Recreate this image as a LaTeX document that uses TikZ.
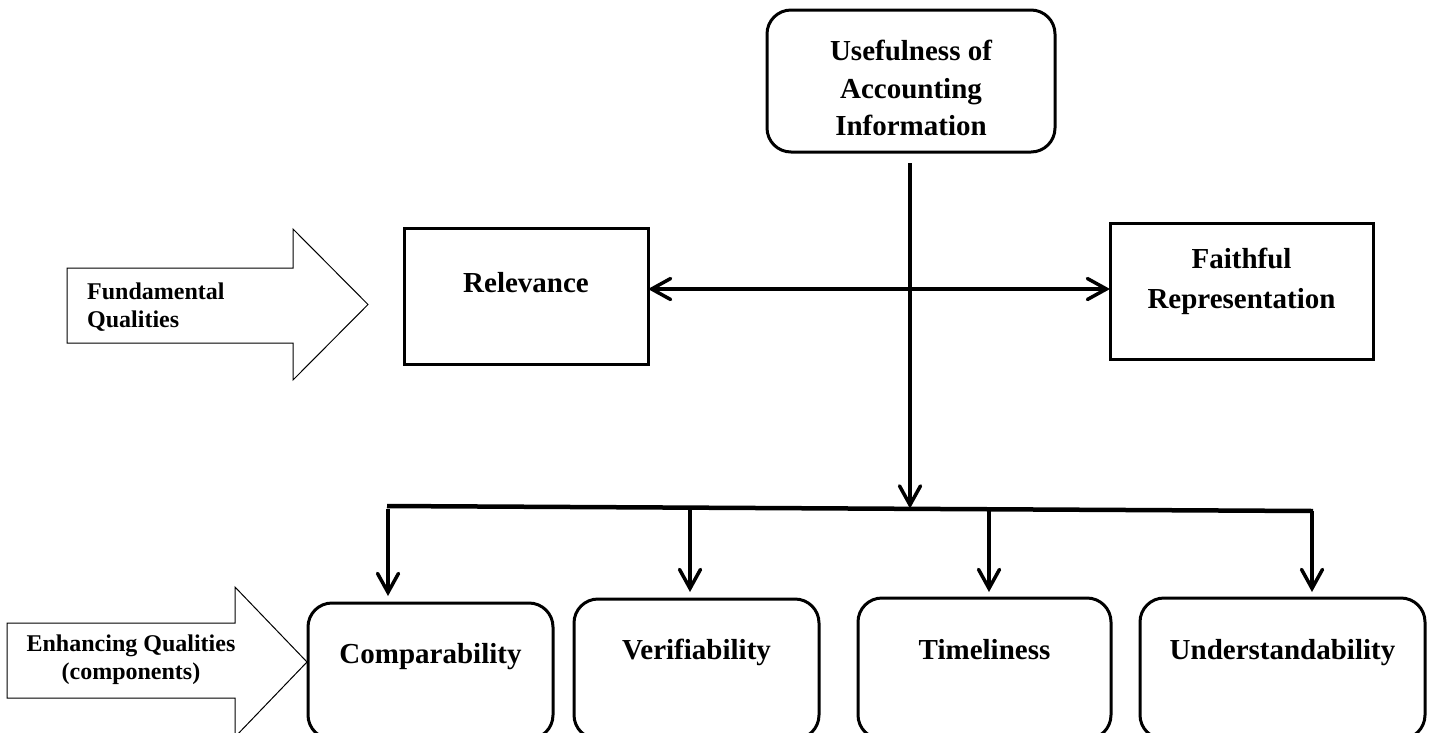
\documentclass[tikz,border=0pt]{standalone}
\usepackage{fontspec}
\setmainfont{Liberation Serif}
\usetikzlibrary{arrows.meta,calc}
\begin{document}
\begin{tikzpicture}[x=1pt,y=-1pt,
  rbox/.style={draw,line width=3pt,rounded corners=24pt,inner sep=0pt,outer sep=0pt},
  sbox/.style={draw,line width=3pt,inner sep=0pt,outer sep=0pt},
  big/.style={font=\fontsize{29}{38}\selectfont\bfseries,align=center,inner sep=0pt},
  one/.style={big,text height=20pt,text depth=6pt},
  small/.style={font=\fontsize{24}{28}\selectfont\bfseries,inner sep=0pt},
  arr/.style={line width=3.5pt,-{Straight Barb[length=19pt,width=21pt,line cap=round]}},
  darr/.style={line width=3.5pt,{Straight Barb[length=19pt,width=21pt,line cap=round]}-{Straight Barb[length=19pt,width=21pt,line cap=round]}},
  blockarrow/.style={draw,line width=1pt,fill=white}
]
\useasboundingbox (0,0) rectangle (1432,732);
\clip (0,0) rectangle (1432,732);

% block arrows
\draw[blockarrow] (67,268) -- (293,268) -- (293,229) -- (368,304.5) -- (293,380) -- (293,343) -- (67,343) -- cycle;
\draw[blockarrow] (7,623) -- (235,623) -- (235,587) -- (307,662) -- (235,737) -- (235,698) -- (7,698) -- cycle;
\node[small,align=left,anchor=west] (fund) at (87,307) {Fundamental\\Qualities};
\node[small,align=center] (enh) at (131,660) {Enhancing Qualities\\(components)};

% top box
\node[rbox,minimum width=288pt,minimum height=142pt] (top) at (911,81) {};
\node[big,font=\fontsize{29}{37.5}\selectfont\bfseries] (toptext) at (911,88) {Usefulness of\\Accounting\\Information};

% fundamental boxes
\node[sbox,minimum width=244pt,minimum height=136pt] (rel) at (526,296) {};
\node[one] (reltext) at (526,285) {Relevance};
\node[sbox,minimum width=263pt,minimum height=136pt] (faith) at (1241.5,291) {};
\node[big,font=\fontsize{29}{40}\selectfont\bfseries] (faithtext) at (1241.5,281) {Faithful\\Representation};

% bottom boxes
\node[rbox,minimum width=245pt,minimum height=136pt] (comp) at (430.5,671) {};
\node[rbox,minimum width=245pt,minimum height=140pt] (veri) at (696.5,669) {};
\node[rbox,minimum width=253pt,minimum height=141pt] (time) at (984.5,668.5) {};
\node[rbox,minimum width=285pt,minimum height=141pt] (unde) at (1282.5,668.5) {};
\node[one] (comptext) at (430.5,656) {Comparability};
\node[one] (veritext) at (696.5,652) {Verifiability};
\node[one] (timetext) at (984.5,652) {Timeliness};
\node[one] (undetext) at (1282.5,652) {Understandability};

% connectors
\coordinate (ha) at (0,289);
\draw[darr] (rel.east |- ha) -- (faith.west |- ha);

\coordinate (busL) at (387,506);
\coordinate (busR) at (1313,511);
\coordinate (busM) at (910,508.5);
\draw[line width=4.5pt] (busL) -- (busR);
\draw[arr] ([xshift=-1pt,yshift=-11pt]top.south) -- (busM);

\coordinate (b1) at (388,509);
\coordinate (b2) at (690,509.5);
\coordinate (b3) at (989,510);
\coordinate (b4) at (1312,511);
\draw[arr] (b1) -- ($(b1 |- comp.north)+(0,-7)$);
\draw[arr] (b2) -- ($(b2 |- veri.north)+(0,-7)$);
\draw[arr] (b3) -- ($(b3 |- time.north)+(0,-6)$);
\draw[arr] (b4) -- ($(b4 |- unde.north)+(0,-6)$);
\end{tikzpicture}
\end{document}
